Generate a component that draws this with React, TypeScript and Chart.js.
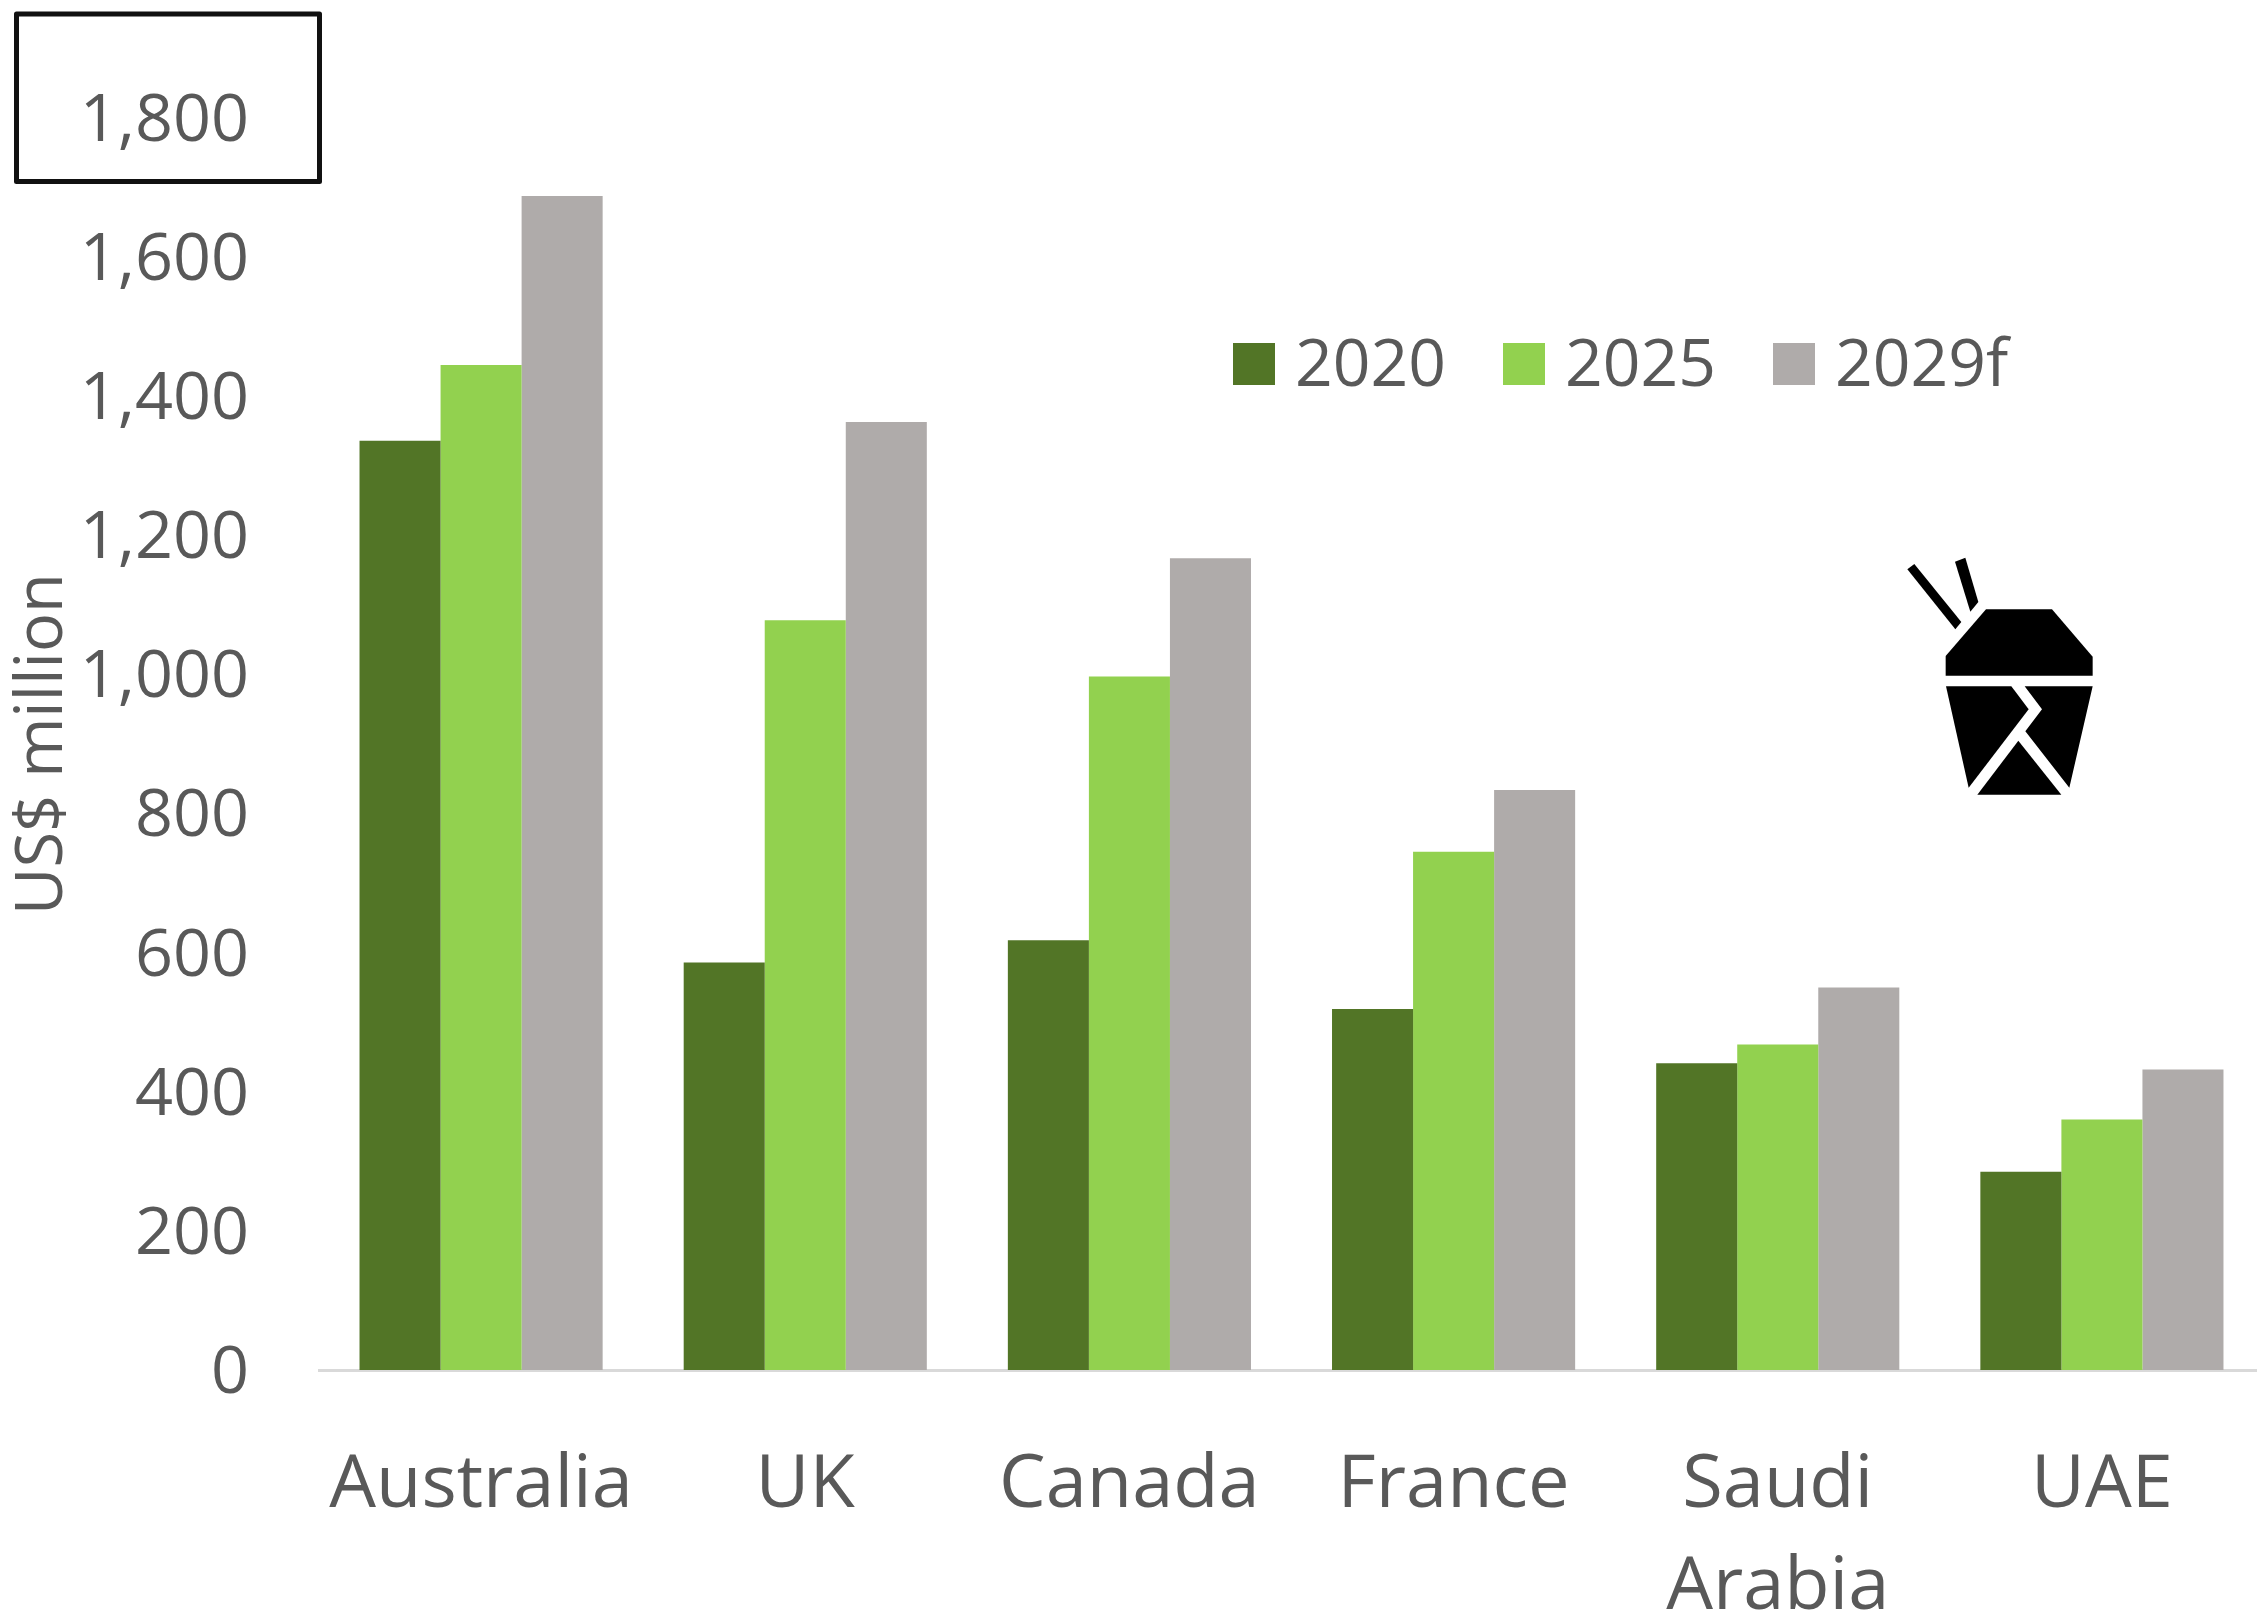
import { useEffect, useRef } from "react";
import { Chart, registerables, type Plugin } from "chart.js";

Chart.register(...registerables);

const countries: (string | string[])[] = ["Australia", "UK", "Canada", "France", ["Saudi", "Arabia"], "UAE"];
const values2020 = [1336, 586, 618, 519, 441, 285];
const values2025 = [1445, 1078, 997, 745, 468, 360];
const values2029f = [1688, 1363, 1167, 834, 550, 432];
const seriesNames = ["2020", "2025", "2029f"];
const seriesColors = ["#527526", "#92d14f", "#afabaa"];

const FONT = '"Open Sans", sans-serif';
const TEXT = "#595959";

// Takeaway box icon, as outlines in its own 280-unit coordinate frame (3 units per pixel).
const iconShapes = [
  [[172, 118], [193, 102], [334, 276], [316, 298]],
  [[315, 95], [346, 83], [385, 216], [361, 245]],
  [[408, 238], [606, 238], [728, 380], [728, 437], [287, 437], [287, 378]],
  [[288, 469], [484, 469], [536, 538], [356, 773]],
  [[524, 469], [728, 469], [658, 773], [526, 604], [576, 538]],
  [[505, 632], [634, 794], [382, 794]],
];

const decorations: Plugin<"bar"> = {
  id: "decorations",
  beforeDraw(chart) {
    // Nudge the value labels slightly below their tick positions
    chart.scales.y.getLabelItems().forEach((item: any) => {
      item.textOffset = 4;
    });
  },
  afterDraw(chart) {
    const { ctx } = chart;
    ctx.save();

    // Frame around the top tick label
    ctx.strokeStyle = "#111111";
    ctx.lineWidth = 5;
    ctx.lineJoin = "round";
    ctx.strokeRect(16.5, 14, 303, 167.5);

    // Legend row
    const swatchX = [1233, 1503, 1773];
    const textX = [1295, 1565, 1835];
    ctx.font = `66px ${FONT}`;
    ctx.textBaseline = "middle";
    ctx.textAlign = "left";
    chart.data.datasets.forEach((ds, i) => {
      ctx.fillStyle = ds.backgroundColor as string;
      ctx.fillRect(swatchX[i], 343, 42, 42);
      ctx.fillStyle = TEXT;
      ctx.fillText(ds.label as string, textX[i], 367);
    });

    // Icon
    ctx.fillStyle = "#000000";
    ctx.translate(1850, 530);
    ctx.scale(1 / 3, 1 / 3);
    for (const shape of iconShapes) {
      ctx.beginPath();
      shape.forEach(([x, y], i) => (i ? ctx.lineTo(x, y) : ctx.moveTo(x, y)));
      ctx.closePath();
      ctx.fill();
    }
    ctx.restore();
  },
};

export default function App() {
  const ref = useRef<HTMLCanvasElement>(null);

  useEffect(() => {
    const chart = new Chart(ref.current!, {
      type: "bar",
      data: {
        labels: countries,
        datasets: [values2020, values2025, values2029f].map((data, i) => ({
          label: seriesNames[i],
          data,
          backgroundColor: seriesColors[i],
          categoryPercentage: 0.75,
          barPercentage: 1,
        })),
      },
      options: {
        responsive: false,
        animation: false,
        layout: { padding: { top: 118, left: 0, right: 0, bottom: 0 } },
        plugins: { legend: { display: false }, tooltip: { enabled: false } },
        scales: {
          x: {
            grid: { display: false, drawTicks: false },
            border: { display: true, color: "#d9d9d9", width: 3 },
            ticks: {
              color: TEXT,
              font: { family: FONT, size: 74, lineHeight: 1.38 },
              maxRotation: 0,
              autoSkip: false,
              padding: 65,
            },
            afterFit(scale) {
              scale.height = 246;
            },
          },
          y: {
            min: 0,
            max: 1800,
            grid: { display: false, drawTicks: false },
            border: { display: false },
            title: {
              display: true,
              text: "US$ million",
              color: TEXT,
              font: { family: FONT, size: 65 },
              padding: { top: 4, bottom: 0 },
            },
            ticks: {
              stepSize: 200,
              color: TEXT,
              font: { family: FONT, size: 66.5 },
              padding: 70,
              callback: (v) => Number(v).toLocaleString("en-US"),
            },
            afterFit(scale) {
              scale.width = 319;
            },
          },
        },
      },
      plugins: [decorations],
    });
    return () => chart.destroy();
  }, []);

  // The plot runs a few pixels past the right edge of the page and is cut off there.
  return (
    <div style={{ position: "absolute", left: 0, top: 0, width: 2257, height: 1616, overflow: "hidden", background: "#fff" }}>
      <canvas ref={ref} width={2264} height={1616} style={{ display: "block" }} />
    </div>
  );
}
